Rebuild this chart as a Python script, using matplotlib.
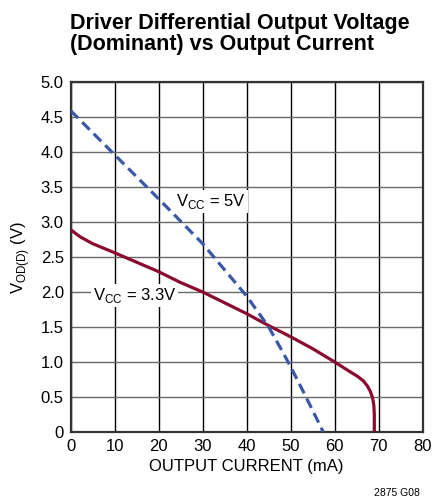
import matplotlib
matplotlib.use("Agg")
import matplotlib.pyplot as plt
from matplotlib import font_manager as fm

names = {f.name for f in fm.fontManager.ttflist}
FAM = "Liberation Sans Narrow" if "Liberation Sans Narrow" in names else "Liberation Sans"
plt.rcParams['font.family'] = [FAM, 'DejaVu Sans']

# Data
i_5v = [0, 10, 20, 30, 40, 45, 48.3, 50, 53, 57.4]
v_5v = [4.59, 3.96, 3.33, 2.69, 1.94, 1.5, 1.13, 0.93, 0.56, 0.0]
i_33 = [0, 2.1, 5, 10, 20, 24.8, 30, 40, 45, 50, 55, 60, 63, 65.3, 66.5, 67.4, 68.1, 68.6, 68.9, 69.0, 69.0]
v_33 = [2.89, 2.79, 2.69, 2.56, 2.29, 2.14, 2.0, 1.69, 1.52, 1.36, 1.19, 1.0, 0.88, 0.79, 0.73, 0.66, 0.58, 0.49, 0.38, 0.25, 0.0]
xticks = [0, 10, 20, 30, 40, 50, 60, 70, 80]
yticks = [0, 0.5, 1.0, 1.5, 2.0, 2.5, 3.0, 3.5, 4.0, 4.5, 5.0]
ylabels = ["0", "0.5", "1.0", "1.5", "2.0", "2.5", "3.0", "3.5", "4.0", "4.5", "5.0"]

fig = plt.figure(figsize=(4.32, 5.0), dpi=100)
ax = fig.add_axes([70.7/432, 68/500, 352/432, 350/500])
ax.set_xlim(0, 80)
ax.set_ylim(0, 5)
ax.set_xticks(xticks)
ax.set_yticks(yticks)
ax.set_yticklabels(ylabels)
ax.tick_params(length=0, labelsize=12, pad=5)
for x in xticks:
    ax.axvline(x, color='black', lw=1.0, zorder=1)
for y in yticks:
    ax.axhline(y, color='#6a6a6a', lw=1.0, zorder=1)
for s in ax.spines.values():
    s.set_linewidth(1.6)
    s.set_color('#333333')

ax.plot(i_33, v_33, color='#8B0A30', lw=2.3, solid_capstyle='butt', solid_joinstyle='round', zorder=3)
ax.plot(i_5v, v_5v, color='#3A58A8', lw=2.3, dashes=(3.3, 1.8), zorder=3)

ax.text(24.0, 3.29, r"V$_{\mathregular{CC}}$ = 5V", fontsize=12, ha='left', va='center',
        bbox=dict(facecolor='white', edgecolor='none', pad=1.5), zorder=2)
ax.text(5.0, 1.95, r"V$_{\mathregular{CC}}$ = 3.3V", fontsize=12, ha='left', va='center',
        bbox=dict(facecolor='white', edgecolor='none', pad=1.5), zorder=2)

ax.set_xlabel("OUTPUT CURRENT (mA)", fontsize=12, labelpad=4)
ax.set_ylabel(r"V$_{\mathregular{OD(D)}}$ (V)", fontsize=12, labelpad=6)

fig.text(70/432, 1 - 13/500, "Driver Differential Output Voltage\n(Dominant) vs Output Current",
         fontsize=15.5, fontweight='bold', ha='left', va='top', linespacing=1.0)
fig.text(420/432, 1 - 493/500, "2875 G08", fontsize=7.5, ha='right', va='center')

fig.savefig("out.png", dpi=100)
